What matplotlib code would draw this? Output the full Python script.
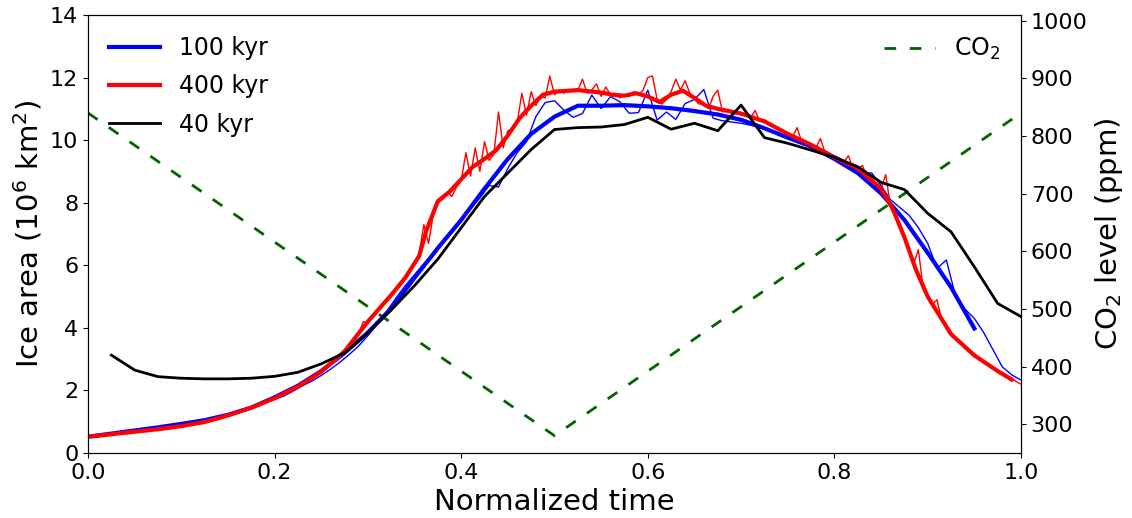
import numpy as np
import matplotlib
matplotlib.use("Agg")
import matplotlib.pyplot as plt

# ---------------- data ----------------
# 40 kyr run (black)
t40 = [0.025, 0.05, 0.075, 0.1, 0.125, 0.15, 0.175, 0.2, 0.225, 0.25,
       0.275, 0.3, 0.325, 0.35, 0.375, 0.4, 0.425, 0.45, 0.475, 0.5,
       0.525, 0.55, 0.575, 0.6, 0.625, 0.65, 0.675, 0.7, 0.725, 0.75,
       0.775, 0.8, 0.825, 0.85, 0.875, 0.9, 0.925, 0.95, 0.975, 1.0]
ice40 = [3.13, 2.65, 2.44, 2.39, 2.37, 2.37, 2.39, 2.45, 2.58, 2.85,
         3.2, 3.85, 4.57, 5.35, 6.2, 7.2, 8.2, 8.95, 9.7, 10.34,
         10.4, 10.42, 10.5, 10.73, 10.35, 10.54, 10.3, 11.12, 10.08, 9.9,
         9.68, 9.45, 9.15, 8.65, 8.42, 7.66, 7.07, 5.95, 4.78, 4.36]

# 100 kyr run, smoothed (thick blue)
t100s = [0.0, 0.025, 0.05, 0.075, 0.1, 0.125, 0.15, 0.175, 0.2, 0.225,
         0.25, 0.275, 0.3, 0.325, 0.35, 0.375, 0.4, 0.425, 0.45, 0.475,
         0.5, 0.525, 0.55, 0.575, 0.6, 0.625, 0.65, 0.675, 0.7, 0.725,
         0.75, 0.775, 0.8, 0.825, 0.85, 0.875, 0.9, 0.925, 0.95]
ice100s = [0.52, 0.62, 0.72, 0.82, 0.93, 1.05, 1.22, 1.45, 1.78, 2.15,
           2.62, 3.2, 3.85, 4.62, 5.6, 6.55, 7.45, 8.45, 9.4, 10.2,
           10.75, 11.1, 11.1, 11.12, 11.08, 11.02, 10.93, 10.82, 10.65, 10.38,
           10.08, 9.8, 9.4, 8.95, 8.3, 7.45, 6.4, 5.3, 3.98]

# 100 kyr run, raw (thin blue), sampled every 0.01
t100 = np.linspace(0.0, 1.0, 101)
ice100 = [0.52, 0.56, 0.60, 0.64, 0.68, 0.72, 0.76, 0.80, 0.84, 0.88,
          0.93, 0.98, 1.02, 1.08, 1.14, 1.20, 1.28, 1.38, 1.48, 1.60,
          1.72, 1.82, 1.98, 2.15, 2.30, 2.48, 2.68, 2.90, 3.15, 3.42,
          3.75, 4.12, 4.52, 4.95, 5.35, 5.70, 6.05, 6.35, 6.75, 7.05,
          7.40, 7.80, 8.15, 8.55, 8.50, 9.10, 9.60, 9.95, 10.75, 11.20,
          11.26, 10.96, 10.73, 10.85, 11.44, 11.01, 11.39, 11.23, 10.86, 10.88,
          11.60, 10.64, 10.90, 10.66, 11.17, 11.30, 11.62, 10.70, 10.62, 10.58,
          10.54, 10.48, 10.40, 10.32, 10.22, 10.12, 10.00, 9.90, 9.80, 9.65,
          9.50, 9.35, 9.20, 8.95, 8.95, 8.55, 8.10, 7.85, 7.60, 7.20,
          6.70, 5.90, 6.17, 5.00, 4.60, 4.30, 3.85, 3.30, 2.75, 2.50,
          2.33]

# 400 kyr run, smoothed (thick red)
t400s = [0.0, 0.025, 0.05, 0.075, 0.1, 0.125, 0.15, 0.175, 0.2, 0.225,
         0.25, 0.275, 0.3, 0.325, 0.34, 0.355, 0.3625, 0.375, 0.3875, 0.4,
         0.4125, 0.425, 0.4375, 0.45, 0.4625, 0.475, 0.4875, 0.5, 0.525, 0.55,
         0.5625, 0.575, 0.5875, 0.6, 0.6125, 0.625, 0.6375, 0.65, 0.6625, 0.675,
         0.7, 0.725, 0.75, 0.775, 0.8, 0.825, 0.85, 0.8625, 0.875, 0.8875,
         0.9, 0.925, 0.95, 0.975, 0.99]
ice400s = [0.52, 0.60, 0.68, 0.76, 0.86, 0.99, 1.20, 1.45, 1.75, 2.12,
           2.60, 3.25, 4.20, 5.05, 5.60, 6.30, 7.10, 8.05, 8.35, 8.75,
           9.15, 9.40, 9.68, 10.15, 10.70, 11.10, 11.45, 11.55, 11.60, 11.52,
           11.45, 11.42, 11.50, 11.40, 11.22, 11.45, 11.58, 11.35, 11.10, 11.00,
           10.85, 10.60, 10.20, 9.85, 9.45, 9.10, 8.45, 7.80, 6.90, 5.85,
           5.00, 3.80, 3.12, 2.62, 2.35]

# 400 kyr run, raw (thin red)
t400 = [0.0, 0.05, 0.1, 0.15, 0.2, 0.25,
        0.280, 0.285, 0.290, 0.295, 0.300, 0.305, 0.310, 0.315, 0.320, 0.325,
        0.330, 0.335, 0.340, 0.345, 0.350, 0.355, 0.360, 0.365, 0.370, 0.375,
        0.380, 0.385, 0.390, 0.395, 0.400, 0.405, 0.410, 0.415, 0.420, 0.425,
        0.430, 0.435, 0.440, 0.445, 0.450, 0.455, 0.460, 0.465, 0.470, 0.475,
        0.480, 0.485, 0.490, 0.495, 0.500, 0.505, 0.510, 0.515, 0.520, 0.525,
        0.530, 0.535, 0.540, 0.545, 0.550, 0.555, 0.560, 0.565, 0.570, 0.575,
        0.580, 0.585, 0.590, 0.595, 0.600, 0.605, 0.610, 0.615, 0.620, 0.625,
        0.630, 0.635, 0.640, 0.645, 0.650, 0.655, 0.660, 0.665, 0.670, 0.675,
        0.680, 0.685, 0.690, 0.695, 0.700, 0.705, 0.710, 0.715, 0.720, 0.725,
        0.730, 0.735, 0.740, 0.745, 0.750, 0.755, 0.760, 0.765, 0.770, 0.775,
        0.780, 0.785, 0.790, 0.795, 0.800, 0.805, 0.810, 0.815, 0.820, 0.825,
        0.830, 0.835, 0.840, 0.845, 0.850, 0.855, 0.860, 0.865, 0.870, 0.875,
        0.880, 0.885, 0.890, 0.895, 0.900, 0.905, 0.910, 0.915, 0.925, 0.95,
        0.975, 1.0]
ice400 = [0.52, 0.68, 0.86, 1.20, 1.75, 2.60,
          3.40, 3.55, 3.80, 4.20, 4.15, 4.35, 4.50, 4.70, 4.85, 5.00,
          5.20, 5.35, 5.65, 5.80, 6.05, 6.40, 7.30, 6.70, 7.60, 8.00,
          8.10, 8.35, 8.20, 8.50, 8.70, 9.60, 8.85, 9.75, 9.00, 9.95,
          9.35, 9.55, 10.90, 9.75, 10.30, 10.35, 10.55, 11.50, 10.80, 11.55,
          11.10, 11.40, 11.35, 12.05, 11.45, 11.60, 11.50, 11.62, 11.55, 11.60,
          11.95, 11.50, 11.60, 11.80, 11.40, 11.70, 11.45, 11.50, 11.35, 11.45,
          11.40, 11.55, 11.45, 11.60, 12.00, 12.05, 11.30, 11.15, 11.30, 11.55,
          11.95, 11.60, 11.90, 11.50, 11.30, 11.15, 11.20, 11.00, 11.40, 11.60,
          10.90, 10.95, 10.85, 10.90, 10.80, 10.85, 10.70, 10.95, 10.60, 10.65,
          10.50, 10.45, 10.35, 10.30, 10.25, 10.10, 10.40, 9.95, 9.95, 9.85,
          9.75, 10.05, 9.60, 9.55, 9.45, 9.40, 9.30, 9.50, 9.10, 9.05,
          9.20, 8.80, 8.75, 8.55, 8.45, 8.90, 7.90, 7.60, 7.30, 6.85,
          6.50, 6.05, 6.50, 5.30, 5.00, 4.75, 4.90, 4.25, 3.80, 3.12,
          2.62, 2.20]

# CO2 forcing
t_co2 = [0.0, 0.5, 1.0]
co2 = [840, 280, 840]

# ---------------- plot ----------------
fig = plt.figure(figsize=(11.32, 5.18), dpi=100)
ax = fig.add_axes([88/1132, 1 - 453/518, (1021-88)/1132, (453-15)/518])
ax2 = ax.twinx()
ax.set_zorder(ax2.get_zorder() + 1)
ax.patch.set_visible(False)

ax2.plot(t_co2, co2, color='darkgreen', ls='--', lw=2, dashes=(4.2, 4.9), label='CO$_2$')

ax.plot(t100, ice100, color='blue', lw=1)
ax.plot(t400, ice400, color='red', lw=1)
l1, = ax.plot(t100s, ice100s, color='blue', lw=3, label='100 kyr')
l2, = ax.plot(t400s, ice400s, color='red', lw=3, label='400 kyr')
l3, = ax.plot(t40, ice40, color='black', lw=2, label='40 kyr')

ax.set_xlim(0, 1)
ax.set_ylim(0, 14)
ax.set_yticks(np.arange(0, 15, 2))
ax.set_xticks([0.0, 0.2, 0.4, 0.6, 0.8, 1.0])
ax2.set_ylim(250, 1010)
ax2.set_yticks(np.arange(300, 1001, 100))

ax.tick_params(labelsize=16)
ax2.tick_params(labelsize=16)
ax.set_xlabel('Normalized time', fontsize=21)
ax.set_ylabel('Ice area (10$^6$ km$^2$)', fontsize=21)
ax2.set_ylabel('CO$_2$ level (ppm)', fontsize=21)

ax.legend(handles=[l1, l2, l3], loc='upper left', frameon=False, fontsize=17,
          handlelength=2.16, labelspacing=0.6)
ax2.legend(loc='upper right', frameon=False, fontsize=17, handlelength=2.16)

fig.savefig('out.png', dpi=100)
